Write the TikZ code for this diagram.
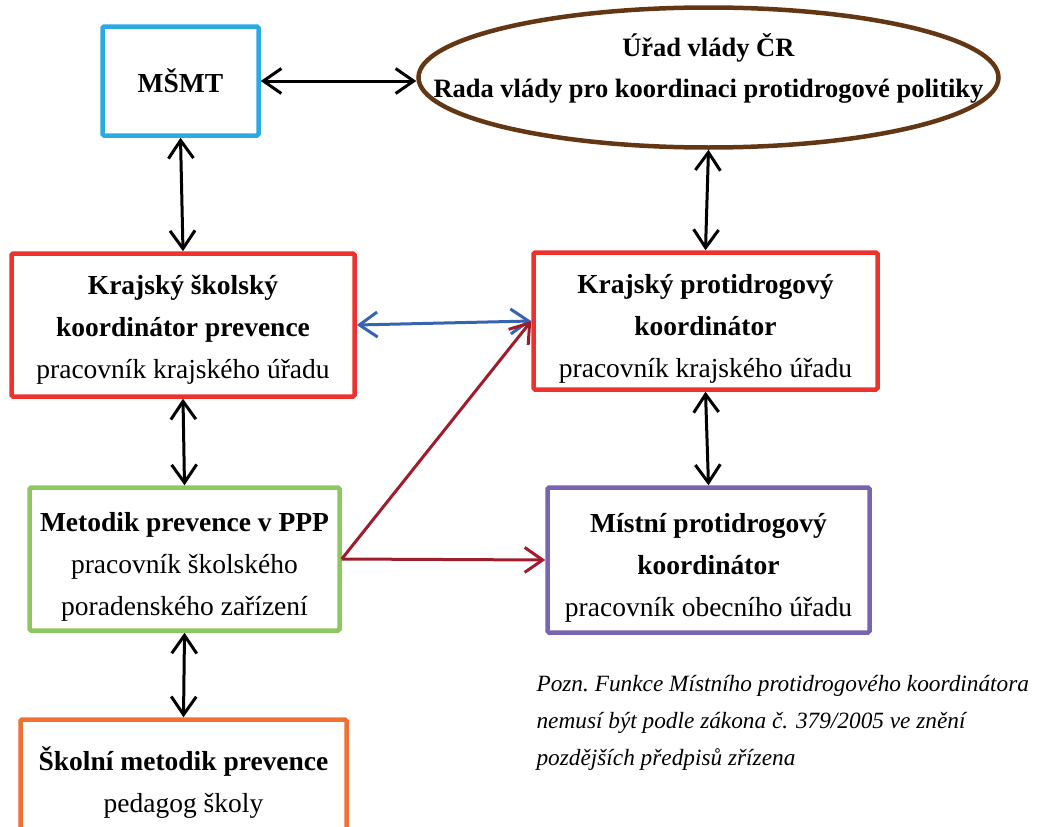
\documentclass[tikz,border=0pt]{standalone}
\usepackage{fontspec}
\setmainfont{Liberation Serif}
\usetikzlibrary{arrows.meta,shapes.geometric}
\definecolor{msmtblue}{RGB}{41,171,226}
\definecolor{uradbrown}{RGB}{99,55,20}
\definecolor{krajred}{RGB}{237,50,45}
\definecolor{ppgreen}{RGB}{140,200,95}
\definecolor{mistpurple}{RGB}{120,100,175}
\definecolor{skolorange}{RGB}{240,112,50}
\definecolor{linkblue}{RGB}{55,100,175}
\definecolor{linkred}{RGB}{160,28,45}
\tikzset{box/.style={draw,line width=4.5pt,rounded corners=1.5pt,align=center,inner sep=0pt},
 lowtext/.style={text height=#1,text depth=6pt},
 tip/.tip={Straight Barb[length=18pt,width=25pt,line width=3pt]},
 link/.style={tip-tip,line width=3pt},
 every node/.style={font=\fontsize{27.5}{42}\selectfont}}

\begin{document}
\begin{tikzpicture}[x=1pt,y=-1pt]
\useasboundingbox (0,0) rectangle (1037,827);
\clip (0,0) rectangle (1037,827);
\node[box,draw=msmtblue,minimum width=156pt,minimum height=109pt] (msmt) at (180.5,81) {\textbf{MŠMT}};
\node[draw=uradbrown,line width=4.5pt,ellipse,minimum width=580pt,minimum height=140pt,inner sep=0pt] (urad) at (708.5,77.5) {};
\node[align=center,font=\fontsize{26.5}{41}\selectfont] (uradtext) at (708.5,68) {\textbf{Úřad vlády ČR}\\\textbf{Rada vlády pro koordinaci protidrogové politiky}};
\node[box,lowtext=112pt,draw=krajred,minimum width=343pt,minimum height=143pt] (kskol) at (183,325) {\textbf{Krajský školský}\\\textbf{koordinátor prevence}\\pracovník krajského úřadu};
\node[box,lowtext=118pt,draw=krajred,minimum width=344pt,minimum height=137pt] (kprot) at (705.5,321) {\textbf{Krajský protidrogový}\\\textbf{koordinátor}\\pracovník krajského úřadu};
\node[box,lowtext=119pt,draw=ppgreen,minimum width=310pt,minimum height=143pt] (metodik) at (184.5,559) {\textbf{Metodik prevence v PPP}\\pracovník školského\\poradenského zařízení};
\node[box,lowtext=118pt,draw=mistpurple,minimum width=322pt,minimum height=145pt] (mistni) at (708.5,560) {\textbf{Místní protidrogový}\\\textbf{koordinátor}\\pracovník obecního úřadu};
\node[box,draw=skolorange,minimum width=326pt,minimum height=127pt] (skolni) at (183.5,783) {\textbf{Školní metodik prevence}\\pedagog školy};
\node[anchor=north west,align=left,font=\fontsize{23.3}{37}\selectfont\itshape] (pozn) at (533,672)
 {Pozn.\ Funkce Místního protidrogového koordinátora\\nemusí být podle zákona č. 379/2005 ve znění\\pozdějších předpisů zřízena};
% spojnice
\draw[link] (msmt.east) -- (msmt.east -| urad.west);
\draw[link] (msmt.south) -- (kskol.north);
\draw[link] (urad.south) -- (kprot.north);
\draw[link,linkblue] (kskol.east) -- (kprot.west);
\draw[link] (kskol.south) -- (metodik.north);
\draw[link] (kprot.south) -- (mistni.north);
\draw[link] (metodik.south) -- (skolni.north);
\draw[-tip,line width=3pt,linkred] (metodik.east) -- (kprot.west);
\draw[-tip,line width=3pt,linkred] (metodik.east) -- (mistni.west);
\end{tikzpicture}
\end{document}
